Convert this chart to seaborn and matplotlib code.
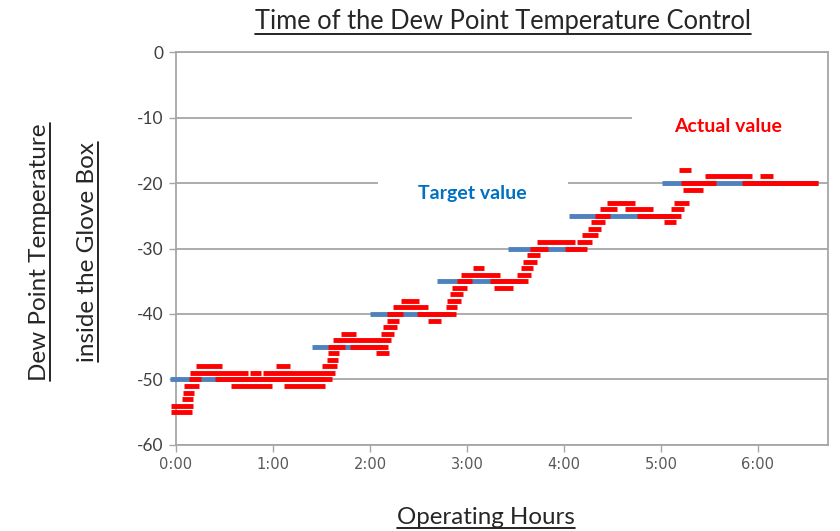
import matplotlib
matplotlib.use('Agg')
import matplotlib.pyplot as plt
import seaborn as sns
import pandas as pd
from matplotlib.patches import Rectangle
from matplotlib.lines import Line2D

# target dew point steps (minutes from start, deg C)
target_start = [-3.7, 84.1, 120.0, 161.5, 205.4, 243.1, 300.7]
target_end = [92.2, 128.0, 169.5, 214.0, 249.9, 308.7, 397.3]
target_value = [-50, -45, -40, -35, -30, -25, -20]

# measured dew point, runs of readings (minutes from start, deg C)
actual_value = [-55, -54, -53, -52, -51, -51, -51, -50, -50, -49, -49, -49,
                -48, -48, -48, -47, -46, -46, -45, -45, -44, -43, -43, -42,
                -41, -41, -40, -40, -39, -39, -38, -38, -37, -36, -36, -35,
                -35, -34, -34, -33, -33, -32, -31, -30, -30, -29, -29, -28,
                -27, -26, -26, -25, -25, -24, -24, -24, -23, -23, -21, -20,
                -20, -19, -19, -18]
actual_start = [-3.3, -3.3, 3.7, 4.3, 4.9, 34.0, 67.0, 8.0, 24.1, 8.7, 45.8, 53.6,
                12.2, 61.9, 90.3, 93.2, 93.8, 123.7, 94.2, 107.6, 97.3, 101.9, 126.8, 128.2,
                130.3, 156.1, 130.7, 149.3, 134.4, 166.8, 139.2, 167.9, 169.5, 171.0, 196.7, 173.6,
                194.2, 176.1, 210.8, 183.5, 213.2, 214.8, 216.9, 219.0, 240.6, 223.3, 247.9, 251.0,
                255.0, 256.7, 302.1, 259.2, 285.0, 262.3, 277.7, 306.2, 266.4, 308.2, 313.8, 312.2,
                350.1, 327.2, 361.3, 311.2]
actual_end = [9.7, 10.3, 10.5, 11.1, 14.4, 59.2, 92.2, 15.5, 96.3, 44.5, 52.6, 98.4,
              28.3, 70.5, 99.6, 100.4, 100.8, 132.0, 104.5, 131.1, 133.0, 111.2, 135.0, 136.5,
              137.9, 164.2, 140.6, 173.2, 155.7, 174.1, 150.3, 176.0, 177.7, 180.2, 208.2, 182.9,
              217.7, 200.4, 219.6, 190.5, 221.0, 223.1, 225.2, 229.9, 254.1, 246.8, 257.2, 261.2,
              262.9, 265.4, 309.0, 268.5, 312.4, 272.6, 295.3, 314.4, 283.9, 317.3, 325.7, 334.0,
              397.3, 356.6, 369.1, 318.6]

hour_ticks = [0, 60, 120, 180, 240, 300, 360]
hour_labels = ['0:00', '1:00', '2:00', '3:00', '4:00', '5:00', '6:00']
temp_ticks = [0, -10, -20, -30, -40, -50, -60]
temp_labels = ['0', '-10', '-20', '-30', '-40', '-50', '-60']


def segments(starts, ends, values):
    rows = []
    for i, (s, e, v) in enumerate(zip(starts, ends, values)):
        rows.append({'minutes': s, 'temp': v, 'seg': i})
        rows.append({'minutes': e, 'temp': v, 'seg': i})
    return pd.DataFrame(rows)


df_target = segments(target_start, target_end, target_value)
df_actual = segments(actual_start, actual_end, actual_value)

sns.set_style('white')
plt.rcParams['font.family'] = ['Lato', 'DejaVu Sans']

fig = plt.figure(figsize=(8.4, 5.31), dpi=100)
ax = fig.add_axes([0.2095, 0.162, 0.7762, 0.740])

grid_col = '#A6A6A6'
ax.set_axisbelow(True)
ax.yaxis.grid(True, color=grid_col, linewidth=1.3)

# white label boxes hide the gridlines behind the annotations
ax.add_patch(Rectangle((125, -24), 117.5, 7.5, facecolor='white', edgecolor='none', zorder=1))
ax.add_patch(Rectangle((282, -13.5), 122, 7, facecolor='white', edgecolor='none', zorder=1))

sns.lineplot(data=df_target, x='minutes', y='temp', units='seg', estimator=None,
             color='#4F81BD', linewidth=3.5, solid_capstyle='butt', clip_on=False, ax=ax, zorder=3)
sns.lineplot(data=df_actual, x='minutes', y='temp', units='seg', estimator=None,
             color='#FF0000', linewidth=3.5, solid_capstyle='butt', clip_on=False, ax=ax, zorder=4)

ax.set_xlim(0, 403.3)
ax.set_ylim(-60, 0)
ax.set_xticks(hour_ticks)
ax.set_xticklabels(hour_labels, fontsize=10.5, color='#595959', family='DejaVu Sans')
ax.set_yticks(temp_ticks)
ax.set_yticklabels(temp_labels, fontsize=12.5, color='#404040')
ax.tick_params(axis='both', direction='out', length=5, width=1, color=grid_col,
               bottom=True, left=True, pad=4)
ax.set_xlabel('')
ax.set_ylabel('')
for sp in ax.spines.values():
    sp.set_color(grid_col)
    sp.set_linewidth(1.3)

ax.text(183.1, -21.6, 'Target value', color='#0070C0', fontsize=14, fontweight='bold',
        ha='center', va='center', zorder=5)
ax.text(341.5, -11.35, 'Actual value', color='#FF0000', fontsize=14, fontweight='bold',
        ha='center', va='center', zorder=5)

title = fig.text(503 / 840, 1 - 22 / 531, 'Time of the Dew Point Temperature Control',
                 fontsize=18.4, ha='center', va='center')
xlab = fig.text(486 / 840, 1 - 518 / 531, 'Operating Hours', fontsize=17.4, ha='center', va='center')
ylab1 = fig.text(40 / 840, 1 - 252 / 531, 'Dew Point Temperature', fontsize=17.5,
                 rotation=90, ha='center', va='center')
ylab2 = fig.text(88 / 840, 1 - 252 / 531, 'inside the Glove Box', fontsize=17.5,
                 rotation=90, ha='center', va='center')

# underline the titles
fig.canvas.draw()
r = fig.canvas.get_renderer()
W, H = fig.bbox.width, fig.bbox.height
for t in [title, xlab]:
    bb = t.get_window_extent(r)
    y = (bb.y0 + 1) / H
    fig.add_artist(Line2D([bb.x0 / W, bb.x1 / W], [y, y], color='black', linewidth=1.2))
for t in [ylab1, ylab2]:
    bb = t.get_window_extent(r)
    x = (bb.x1 - 1) / W
    fig.add_artist(Line2D([x, x], [bb.y0 / H, bb.y1 / H], color='black', linewidth=1.2))

fig.savefig('out.png', dpi=100)
